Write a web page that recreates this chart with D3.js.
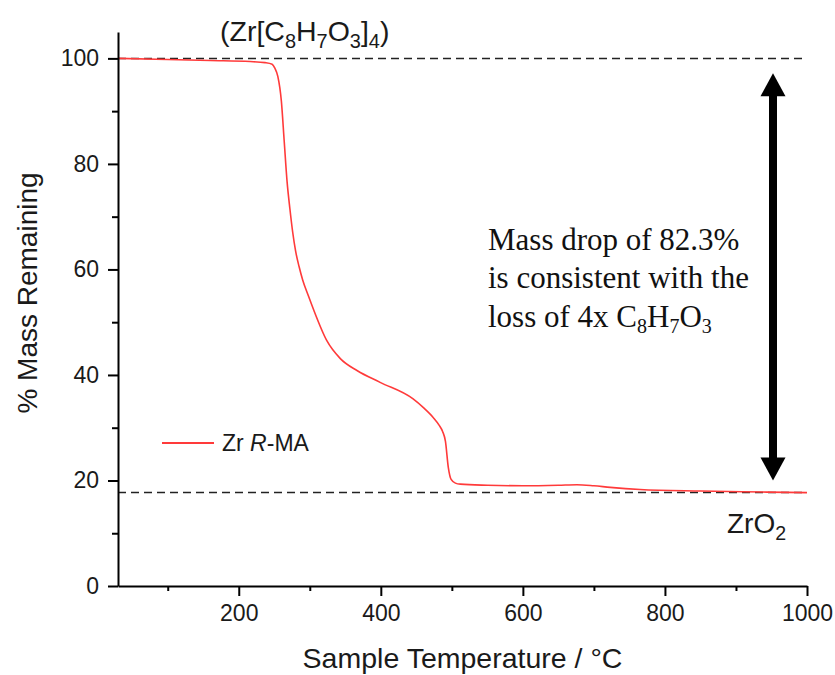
<!DOCTYPE html>
<html>
<head>
<meta charset="utf-8">
<script src="https://cdn.jsdelivr.net/npm/d3@7"></script>
<style>
  html, body { margin: 0; padding: 0; background: #fff; }
  svg { display: block; }
  .sans { font-family: "Liberation Sans", Arial, Helvetica, sans-serif; fill: #1a1a1a; }
  .serif { font-family: "Liberation Serif", "Times New Roman", Times, serif; fill: #111; }
</style>
</head>
<body>
<svg id="chart" width="835" height="675"></svg>
<script>
// TGA trace of Zr R-MA: sample temperature (°C) vs. % mass remaining
const temperature = [30, 100, 160, 216, 237, 247, 251, 255, 260, 264, 268, 272, 276, 280, 285, 290,
  298, 305, 324, 343, 367, 399, 445, 460, 474, 482, 487, 491, 495, 499, 505, 512, 550, 600, 650, 676,
  700, 723, 765, 850, 944, 1000];
const massRemaining = [100, 99.8, 99.6, 99.4, 99.2, 98.9, 98.1, 96.6, 91.9, 84.3, 76.7, 71.5, 67.0,
  63.5, 60.5, 58.0, 55.0, 52.5, 46.5, 43.1, 40.8, 38.6, 35.5, 33.8, 31.9, 30.5, 29.3, 27.4, 22.5,
  20.2, 19.5, 19.3, 19.1, 19.0, 19.1, 19.2, 19.0, 18.7, 18.3, 18.0, 17.8, 17.7];

const xMajorTicks = [200, 400, 600, 800, 1000];
const xMinorTicks = [100, 300, 500, 700, 900];
const yMajorTicks = [0, 20, 40, 60, 80, 100];
const yMinorTicks = [10, 30, 50, 70, 90];

const startMass = 100;      // Zr[C8H7O3]4
const residueMass = 17.7;   // ZrO2
const arrowFrom = 97.2;
const arrowTo = 20.0;

const svg = d3.select("#chart");
const plotLeft = 118, plotRight = 807, plotTop = 32, plotBottom = 586;

const x = d3.scaleLinear().domain([30, 1000]).range([plotLeft, plotRight]);
const y = d3.scaleLinear().domain([0, 105]).range([plotBottom, plotTop]);

// reference lines (dashed)
[startMass, residueMass].forEach(v => {
  svg.append("line")
    .attr("x1", x(30)).attr("x2", x(995))
    .attr("y1", y(v)).attr("y2", y(v))
    .attr("stroke", "#222").attr("stroke-width", 1.5)
    .attr("stroke-dasharray", "8,5");
});

// data line
const data = temperature.map((t, i) => ({ t, m: massRemaining[i] }));
const line = d3.line().x(d => x(d.t)).y(d => y(d.m)).curve(d3.curveMonotoneX);
svg.append("path").datum(data)
  .attr("d", line)
  .attr("fill", "none")
  .attr("stroke", "#ff3a3a")
  .attr("stroke-width", 1.6);

// axes
const fontTick = "23px";
function styleAxis(g) {
  g.selectAll(".domain").attr("stroke", "#000").attr("stroke-width", 2);
  g.selectAll(".tick line").attr("stroke", "#000").attr("stroke-width", 2);
}
const xAxis = svg.append("g").attr("transform", `translate(0,${plotBottom})`)
  .call(d3.axisBottom(x).tickValues(xMajorTicks).tickSize(10).tickSizeOuter(0).tickPadding(9).tickFormat(d3.format("d")));
xAxis.call(styleAxis);
xAxis.selectAll("text").attr("class", "sans").style("font-size", fontTick).attr("fill", "#1a1a1a");
svg.append("g").attr("transform", `translate(0,${plotBottom})`)
  .call(d3.axisBottom(x).tickValues(xMinorTicks).tickSize(5).tickFormat(""))
  .call(g => { g.select(".domain").remove(); g.selectAll(".tick line").attr("stroke", "#000").attr("stroke-width", 2); });

const yAxis = svg.append("g").attr("transform", `translate(${plotLeft},0)`)
  .call(d3.axisLeft(y).tickValues(yMajorTicks).tickSize(10).tickSizeOuter(0).tickPadding(9).tickFormat(d3.format("d")));
yAxis.call(styleAxis);
yAxis.selectAll("text").attr("class", "sans").style("font-size", fontTick).attr("fill", "#1a1a1a");
svg.append("g").attr("transform", `translate(${plotLeft},0)`)
  .call(d3.axisLeft(y).tickValues(yMinorTicks).tickSize(6).tickFormat(""))
  .call(g => { g.select(".domain").remove(); g.selectAll(".tick line").attr("stroke", "#000").attr("stroke-width", 2); });

// axis titles
svg.append("text").attr("class", "sans")
  .attr("x", (plotLeft + plotRight) / 2).attr("y", 668)
  .attr("text-anchor", "middle").style("font-size", "28.5px")
  .text("Sample Temperature / °C");
svg.append("text").attr("class", "sans")
  .attr("transform", "translate(37,293) rotate(-90)")
  .attr("text-anchor", "middle").style("font-size", "28px")
  .text("% Mass Remaining");

// formula labels with subscripts
function formula(parent, xPos, yPos, parts, size) {
  const t = parent.append("text").attr("class", "sans")
    .attr("x", xPos).attr("y", yPos).style("font-size", size + "px");
  let sub = false;
  parts.forEach(p => {
    const isSub = p.sub === true;
    const ts = t.append("tspan").text(p.s);
    if (isSub) ts.style("font-size", (size * 0.7) + "px");
    if (isSub && !sub) { ts.attr("dy", size * 0.26); sub = true; }
    else if (!isSub && sub) { ts.attr("dy", -size * 0.26); sub = false; }
  });
  return t;
}
formula(svg, 220, 41, [
  { s: "(Zr[C" }, { s: "8", sub: true }, { s: "H" }, { s: "7", sub: true },
  { s: "O" }, { s: "3", sub: true }, { s: "]" }, { s: "4", sub: true }, { s: ")" }
], 28.5);
formula(svg, 727, 533, [{ s: "ZrO" }, { s: "2", sub: true }], 28);

// legend
svg.append("line").attr("x1", 162).attr("x2", 214).attr("y1", 443).attr("y2", 443)
  .attr("stroke", "#ff3a3a").attr("stroke-width", 2);
const leg = svg.append("text").attr("class", "sans").attr("x", 222).attr("y", 451).style("font-size", "23px");
leg.append("tspan").text("Zr ");
leg.append("tspan").style("font-style", "italic").text("R");
leg.append("tspan").text("-MA");

// double-headed arrow spanning the mass loss
const ax = 773, headW = 25, headH = 23, shaft = 8;
svg.append("rect")
  .attr("x", ax - shaft / 2).attr("y", y(arrowFrom) + headH - 1)
  .attr("width", shaft).attr("height", y(arrowTo) - y(arrowFrom) - 2 * headH + 2)
  .attr("fill", "#000");
svg.append("path")
  .attr("d", `M${ax},${y(arrowFrom)} L${ax + headW / 2},${y(arrowFrom) + headH} L${ax - headW / 2},${y(arrowFrom) + headH}Z`)
  .attr("fill", "#000");
svg.append("path")
  .attr("d", `M${ax},${y(arrowTo)} L${ax + headW / 2},${y(arrowTo) - headH} L${ax - headW / 2},${y(arrowTo) - headH}Z`)
  .attr("fill", "#000");

// annotation
const note = svg.append("text").attr("class", "serif").style("font-size", "31px");
note.append("tspan").attr("x", 488).attr("y", 250).text("Mass drop of 82.3%");
note.append("tspan").attr("x", 488).attr("y", 288).text("is consistent with the");
note.append("tspan").attr("x", 488).attr("y", 327).text("loss of 4x C");
note.append("tspan").attr("dy", 6).style("font-size", "20px").text("8");
note.append("tspan").attr("dy", -6).text("H");
note.append("tspan").attr("dy", 6).style("font-size", "20px").text("7");
note.append("tspan").attr("dy", -6).text("O");
note.append("tspan").attr("dy", 6).style("font-size", "20px").text("3");
</script>
</body>
</html>
